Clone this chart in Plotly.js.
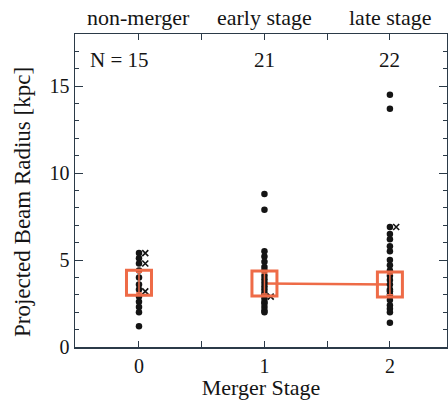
<!DOCTYPE html>
<html><head><meta charset="utf-8">
<script src="https://cdn.plot.ly/plotly-3.0.1.min.js"></script>
<style>html,body{margin:0;padding:0;background:#fff}#chart{width:448px;height:400px}</style>
</head><body><div id="chart"></div>
<script>
// Data
const stageNames = ["non-merger", "early stage", "late stage"];
const stageCounts = ["N = 15", "21", "22"];
const stage0Dots = [5.4, 5.1, 4.8, 4.4, 4.0, 3.6, 3.3, 2.9, 2.6, 2.3, 2.0, 1.2];
const stage0Cross = [5.4, 4.8, 3.2];
const stage1Dots = [8.8, 7.9, 5.5, 5.2, 4.9, 4.6, 4.4, 4.1, 3.9, 3.7, 3.5, 3.3, 3.1, 3.0, 2.8, 2.6, 2.5, 2.3, 2.1, 2.0];
const stage1Cross = [2.9];
const stage2Dots = [14.5, 13.7, 6.9, 6.5, 6.2, 5.8, 5.5, 5.0, 4.7, 4.4, 4.1, 3.85, 3.6, 3.3, 3.2, 3.0, 2.7, 2.4, 2.2, 2.0, 1.4];
const stage2Cross = [6.9];
const medianStage = [0, 1, 2];
const medianValue = [3.7, 3.65, 3.6];
const medianErr = [0.6, 0.6, 0.6];
const lineStage = [1, 2];
const lineValue = [3.65, 3.6];

const dotSets = [stage0Dots, stage1Dots, stage2Dots];
const crossSets = [stage0Cross, stage1Cross, stage2Cross];
const crossShift = 0.05;
const orange = '#ee6b47';
const ink = '#141414';
const font = 'Liberation Serif, Times New Roman, serif';

const traces = [];
traces.push({x: lineStage, y: lineValue, mode: 'lines', line: {color: orange, width: 2.5}, hoverinfo: 'skip'});
dotSets.forEach((arr, i) => {
  traces.push({x: arr.map(() => i), y: arr, mode: 'markers', marker: {color: ink, size: 6.5, symbol: 'circle'}});
});
crossSets.forEach((arr, i) => {
  traces.push({x: arr.map(() => i + crossShift), y: arr, mode: 'markers', marker: {color: ink, size: 6, symbol: 'x-thin-open', line: {color: ink, width: 1.6}}});
});
traces.push({x: medianStage, y: medianValue, mode: 'markers',
  marker: {symbol: 'square-open', size: 25, color: orange, line: {color: orange, width: 3}},
  error_y: {type: 'data', array: medianErr, color: orange, thickness: 1.5, width: 3}});

const annotations = [];
stageNames.forEach((t, i) => annotations.push({x: i, y: 1.052, xref: 'x', yref: 'paper', text: t, showarrow: false, xanchor: 'center', yanchor: 'middle', font: {family: font, size: 22, color: ink}}));
stageCounts.forEach((t, i) => annotations.push({x: i, y: 16.5, xref: 'x', yref: 'y', text: t, showarrow: false, xanchor: i === 0 ? 'right' : 'center', xshift: i === 0 ? 12 : 0, yanchor: 'middle', font: {family: font, size: 21, color: ink}}));
annotations.push({x: -0.1425, y: 0.463, xref: 'paper', yref: 'paper', text: 'Projected Beam Radius [kpc]', textangle: -90, showarrow: false, xanchor: 'center', yanchor: 'middle', font: {family: font, size: 23, color: ink}});

const axisCommon = {showline: true, linecolor: '#2b3a48', linewidth: 1.5, mirror: 'allticks', ticks: 'inside', tickcolor: '#2b3a48', showgrid: false, zeroline: false, tickfont: {family: font, size: 20, color: ink}};

const layout = {
  width: 448, height: 400,
  margin: {l: 75, r: 1, t: 34, b: 53},
  paper_bgcolor: '#fff', plot_bgcolor: '#fff',
  showlegend: false,
  font: {family: font, color: ink},
  xaxis: Object.assign({}, axisCommon, {range: [-0.51, 2.455], tickvals: [0, 1, 2], ticklen: 6, tickwidth: 1,
    minor: {tickvals: [0.5, 1.5], ticklen: 6, tickcolor: '#2b3a48', ticks: 'inside'},
    title: {text: 'Merger Stage', font: {family: font, size: 22, color: ink}, standoff: 2}}),
  yaxis: Object.assign({}, axisCommon, {range: [0, 18], tickvals: [0, 5, 10, 15], ticklen: 8, tickwidth: 1,
    minor: {dtick: 1, tick0: 0, ticklen: 4, tickcolor: '#2b3a48', ticks: 'inside'}}),
  annotations: annotations
};
Plotly.newPlot('chart', traces, layout, {displayModeBar: false, staticPlot: true});
</script></body></html>
